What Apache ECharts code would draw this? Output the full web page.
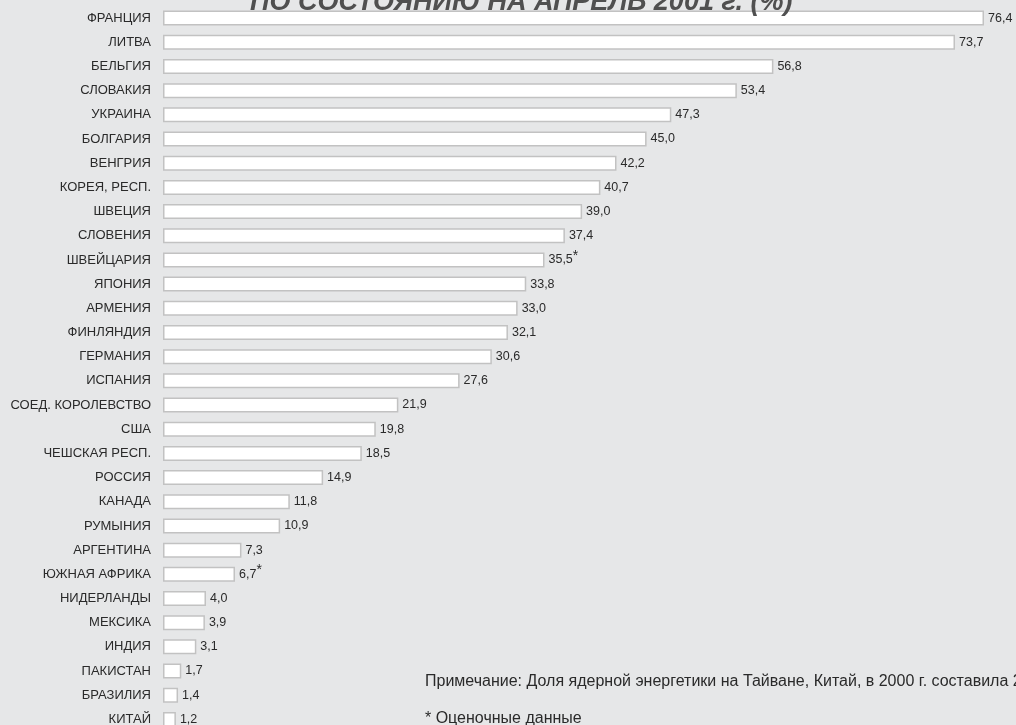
<!DOCTYPE html>
<html>
<head>
<meta charset="utf-8">
<script src="https://cdn.jsdelivr.net/npm/echarts@6/dist/echarts.min.js"></script>
<style>
html,body{margin:0;padding:0;background:#e6e7e8;}
#c{width:1016px;height:725px;}
</style>
</head>
<body>
<div id="c"></div>
<script>
const titleText = 'ПО СОСТОЯНИЮ НА АПРЕЛЬ 2001 г. (%)';
const countries = ['ФРАНЦИЯ','ЛИТВА','БЕЛЬГИЯ','СЛОВАКИЯ','УКРАИНА','БОЛГАРИЯ','ВЕНГРИЯ','КОРЕЯ, РЕСП.','ШВЕЦИЯ','СЛОВЕНИЯ','ШВЕЙЦАРИЯ','ЯПОНИЯ','АРМЕНИЯ','ФИНЛЯНДИЯ','ГЕРМАНИЯ','ИСПАНИЯ','СОЕД. КОРОЛЕВСТВО','США','ЧЕШСКАЯ РЕСП.','РОССИЯ','КАНАДА','РУМЫНИЯ','АРГЕНТИНА','ЮЖНАЯ АФРИКА','НИДЕРЛАНДЫ','МЕКСИКА','ИНДИЯ','ПАКИСТАН','БРАЗИЛИЯ','КИТАЙ'];
const shares = [76.4,73.7,56.8,53.4,47.3,45.0,42.2,40.7,39.0,37.4,35.5,33.8,33.0,32.1,30.6,27.6,21.9,19.8,18.5,14.9,11.8,10.9,7.3,6.7,4.0,3.9,3.1,1.7,1.4,1.2];
const estimated = ['ШВЕЙЦАРИЯ','ЮЖНАЯ АФРИКА'];
const noteText = 'Примечание: Доля ядерной энергетики на Тайване, Китай, в 2000 г. составила 24,0';
const footText = '* Оценочные данные';

const FONT = 'Arial';
const chart = echarts.init(document.getElementById('c'));
chart.setOption({
  backgroundColor: '#e6e7e8',
  animation: false,
  grid: {left: 163, top: 6, width: 859.7, height: 725.5, containLabel: false, outerBoundsMode: 'none'},
  xAxis: {type: 'value', min: 0, max: 80, show: false},
  yAxis: {
    type: 'category', data: countries, inverse: true,
    axisLine: {show: false}, axisTick: {show: false},
    axisLabel: {margin: 12, color: '#2a2a2a', fontSize: 13, fontFamily: FONT}
  },
  series: [{
    type: 'bar',
    data: shares,
    barWidth: 15,
    itemStyle: {color: '#ffffff', borderColor: '#c2c2c2', borderWidth: 1.5},
    label: {
      show: true, position: 'right', distance: 4,
      color: '#2a2a2a', fontSize: 12.5, fontFamily: FONT,
      formatter: function(p){
        const s = p.value.toFixed(1).replace('.', ',');
        return estimated.indexOf(p.name) >= 0 ? s + '{s|*}' : s;
      },
      rich: {s: {fontSize: 14, verticalAlign: 'top', padding: [0,0,8,0], color: '#2a2a2a', fontFamily: FONT}}
    }
  }],
  graphic: [
    {type: 'text', left: 250, top: -11, z: 10,
     style: {text: titleText, font: 'italic bold 27px Arial', fill: '#505050'}},
    {type: 'text', left: 425, top: 674, style: {text: noteText, font: '16px Arial', fill: '#2a2a2a'}},
    {type: 'text', left: 425, top: 711, style: {text: footText, font: '16px Arial', fill: '#2a2a2a'}}
  ]
});
</script>
</body>
</html>
